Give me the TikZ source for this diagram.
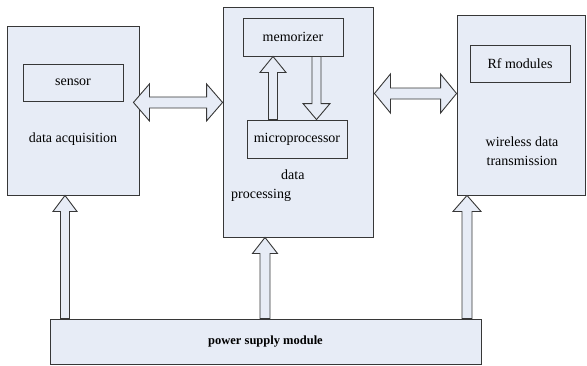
\documentclass[tikz,border=0pt]{standalone}
\usepackage{fontspec}
\setmainfont{Liberation Serif}
\usetikzlibrary{calc}
\definecolor{panel}{RGB}{231,236,246}
\definecolor{edge}{RGB}{55,55,55}
\tikzset{
  block/.style={draw=edge,fill=panel,line width=0.9pt,inner sep=0pt},
  txt/.style={inner sep=0pt,align=center},
  arrowbody/.style={draw=edge,fill=panel,line width=0.9pt,line join=miter},
}
% hollow block arrow: from #1 to #2, head half width #3, shaft half width #4
\newcommand{\fatarrow}[4]{%
  \draw[arrowbody] let \p1=(#1),\p2=(#2),
      \n1={atan2(\y2-\y1,\x2-\x1)},\n2={veclen(\x2-\x1,\y2-\y1)} in
    {[shift={(\p1)},rotate=\n1]
      (0pt,#4) -- (\n2-16pt,#4) -- (\n2-16pt,#3) -- (\n2,0pt)
      -- (\n2-16pt,-#3) -- (\n2-16pt,-#4) -- (0pt,-#4) -- cycle};
}
% same, with a head at both ends
\newcommand{\fatarrowboth}[4]{%
  \draw[arrowbody] let \p1=(#1),\p2=(#2),
      \n1={atan2(\y2-\y1,\x2-\x1)},\n2={veclen(\x2-\x1,\y2-\y1)} in
    {[shift={(\p1)},rotate=\n1]
      (0pt,0pt) -- (16pt,#3) -- (16pt,#4) -- (\n2-16pt,#4) -- (\n2-16pt,#3)
      -- (\n2,0pt) -- (\n2-16pt,-#3) -- (\n2-16pt,-#4) -- (16pt,-#4)
      -- (16pt,-#3) -- cycle};
}

\begin{document}
\begin{tikzpicture}[x=1pt,y=-1pt,font=\fontsize{14}{19}\selectfont]
  \useasboundingbox (0,0) rectangle (587,365);
  % the three units
  \node[block,minimum width=132pt,minimum height=169pt] (acq) at (73,110.5) {};
  \node[block,minimum width=150pt,minimum height=230pt] (proc) at (298,122) {};
  \node[block,minimum width=128pt,minimum height=180pt] (wdt) at (521,105) {};
  \node[block,minimum width=431pt,minimum height=45pt,
    font=\fontsize{12.5}{15}\selectfont\bfseries] (ps) at (265.5,341.5) {power supply module};

  % inner parts
  \node[block,minimum width=100pt,minimum height=37pt] (sensor) at (73,82.5) {sensor};
  \node[block,minimum width=100pt,minimum height=38pt] (mem) at (293,37) {memorizer};
  \node[block,minimum width=100pt,minimum height=38pt] (mp) at (297,139) {microprocessor};
  \node[block,minimum width=100pt,minimum height=37pt] (rf) at (520,63.5) {Rf modules};

  \node[txt] (acqtxt) at (73,139) {data acquisition};
  \node[txt,align=left,anchor=west] (proctxt) at (231,185.5) {\hspace*{50pt}data\\processing};
  \node[txt] (wdttxt) at (522,151.5) {wireless data\\transmission};

  % data links
  \fatarrowboth{$(acq.east |- sensor.south)+(-6pt,-1pt)$}{$(proc.west |- sensor.south)+(0pt,-1pt)$}{18.5pt}{5.5pt}
  \fatarrowboth{$(proc.east)+(1pt,28.5pt)$}{$(wdt.west)+(0pt,11.5pt)$}{19.5pt}{5.5pt}
  \fatarrow{$(mp.north)+(-24pt,0pt)$}{$(mem.south)+(-20pt,0pt)$}{13pt}{4.5pt}
  \fatarrow{$(mem.south)+(23.5pt,0pt)$}{$(mp.north)+(19.5pt,0pt)$}{13.5pt}{4.5pt}

  % power feeds
  \fatarrow{$(ps.north -| acq.south)+(-8pt,0pt)$}{$(acq.south)+(-8pt,0pt)$}{12pt}{4.5pt}
  \fatarrow{$(ps.north)+(-0.5pt,0pt)$}{$(proc.south -| ps.north)+(-0.5pt,0pt)$}{12.5pt}{5pt}
  \fatarrow{$(ps.north -| wdt.south)+(-54pt,0pt)$}{$(wdt.south)+(-54pt,0pt)$}{14pt}{5pt}
\end{tikzpicture}
\end{document}
